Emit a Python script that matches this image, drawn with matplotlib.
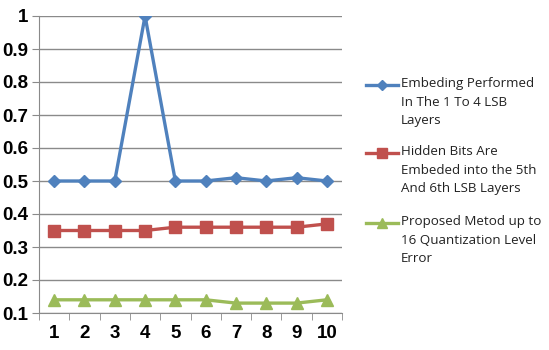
import matplotlib.pyplot as plt
from matplotlib.lines import Line2D
import numpy as np

categories = [1, 2, 3, 4, 5, 6, 7, 8, 9, 10]
lsb_1to4 = [0.5, 0.5, 0.5, 1.0, 0.5, 0.5, 0.51, 0.5, 0.51, 0.5]
lsb_5and6 = [0.35, 0.35, 0.35, 0.35, 0.36, 0.36, 0.36, 0.36, 0.36, 0.37]
proposed = [0.14, 0.14, 0.14, 0.14, 0.14, 0.14, 0.13, 0.13, 0.13, 0.14]
y_ticks = [0.1, 0.2, 0.3, 0.4, 0.5, 0.6, 0.7, 0.8, 0.9, 1]
y_labels = ["0.1", "0.2", "0.3", "0.4", "0.5", "0.6", "0.7", "0.8", "0.9", "1"]
legend_labels = ["Embeding Performed\nIn The 1 To 4 LSB\nLayers",
                 "Hidden Bits Are\nEmbeded into the 5th\nAnd 6th LSB Layers",
                 "Proposed Metod up to\n16 Quantization Level\nError"]

blue, red, green = "#4F81BD", "#C0504D", "#9BBB59"
grid_col = "#8A8A8A"

fig = plt.figure(figsize=(5.49, 3.5), dpi=100)
ax = fig.add_axes([39/549, 1-313/350, (342-39)/549, (313-16)/350])

x = np.arange(len(categories))
ax.plot(x, lsb_1to4, color=blue, lw=2.4, marker="D", ms=6.5, zorder=3)
ax.plot(x, lsb_5and6, color=red, lw=2.4, marker="s", ms=8, zorder=3)
ax.plot(x, proposed, color=green, lw=2.4, marker="^", ms=8.5, zorder=3)

ax.set_xlim(-0.5, len(categories) - 0.5)
ax.set_ylim(0.1, 1.0)
ax.set_yticks(y_ticks)
ax.set_yticklabels(y_labels, fontfamily="Liberation Sans", fontweight="bold", fontsize=13.5)
ax.set_xticks(x)
ax.set_xticklabels([str(c) for c in categories], fontfamily="Liberation Sans",
                   fontweight="bold", fontsize=13.5)
ax.set_xticks(np.arange(len(categories) + 1) - 0.5, minor=True)
ax.tick_params(axis="x", which="major", length=0, pad=9)
ax.tick_params(axis="x", which="minor", length=5, color=grid_col, direction="out")
ax.tick_params(axis="y", length=5, color=grid_col, pad=3)
ax.yaxis.grid(True, color=grid_col, lw=1)
ax.set_axisbelow(True)
for s in ["top", "right"]:
    ax.spines[s].set_visible(False)
for s in ["left", "bottom"]:
    ax.spines[s].set_color(grid_col)

# legend on the right
colors = [blue, red, green]
markers = ["D", "s", "^"]
msizes = [5, 7, 7]
tops = [85, 153, 223]
for lab, c, m, ms, t in zip(legend_labels, colors, markers, msizes, tops):
    yy = 1 - t/350
    fig.add_artist(Line2D([366/549, 398/549], [yy, yy], color=c, lw=2.4))
    fig.add_artist(Line2D([382/549], [yy], color=c, marker=m, ms=ms))
    fig.text(401/549, yy + 8/350, lab, fontfamily="Open Sans", fontsize=9.6,
             va="top", ha="left", linespacing=1.55, color="#222222")

fig.savefig("out.png", dpi=100)
